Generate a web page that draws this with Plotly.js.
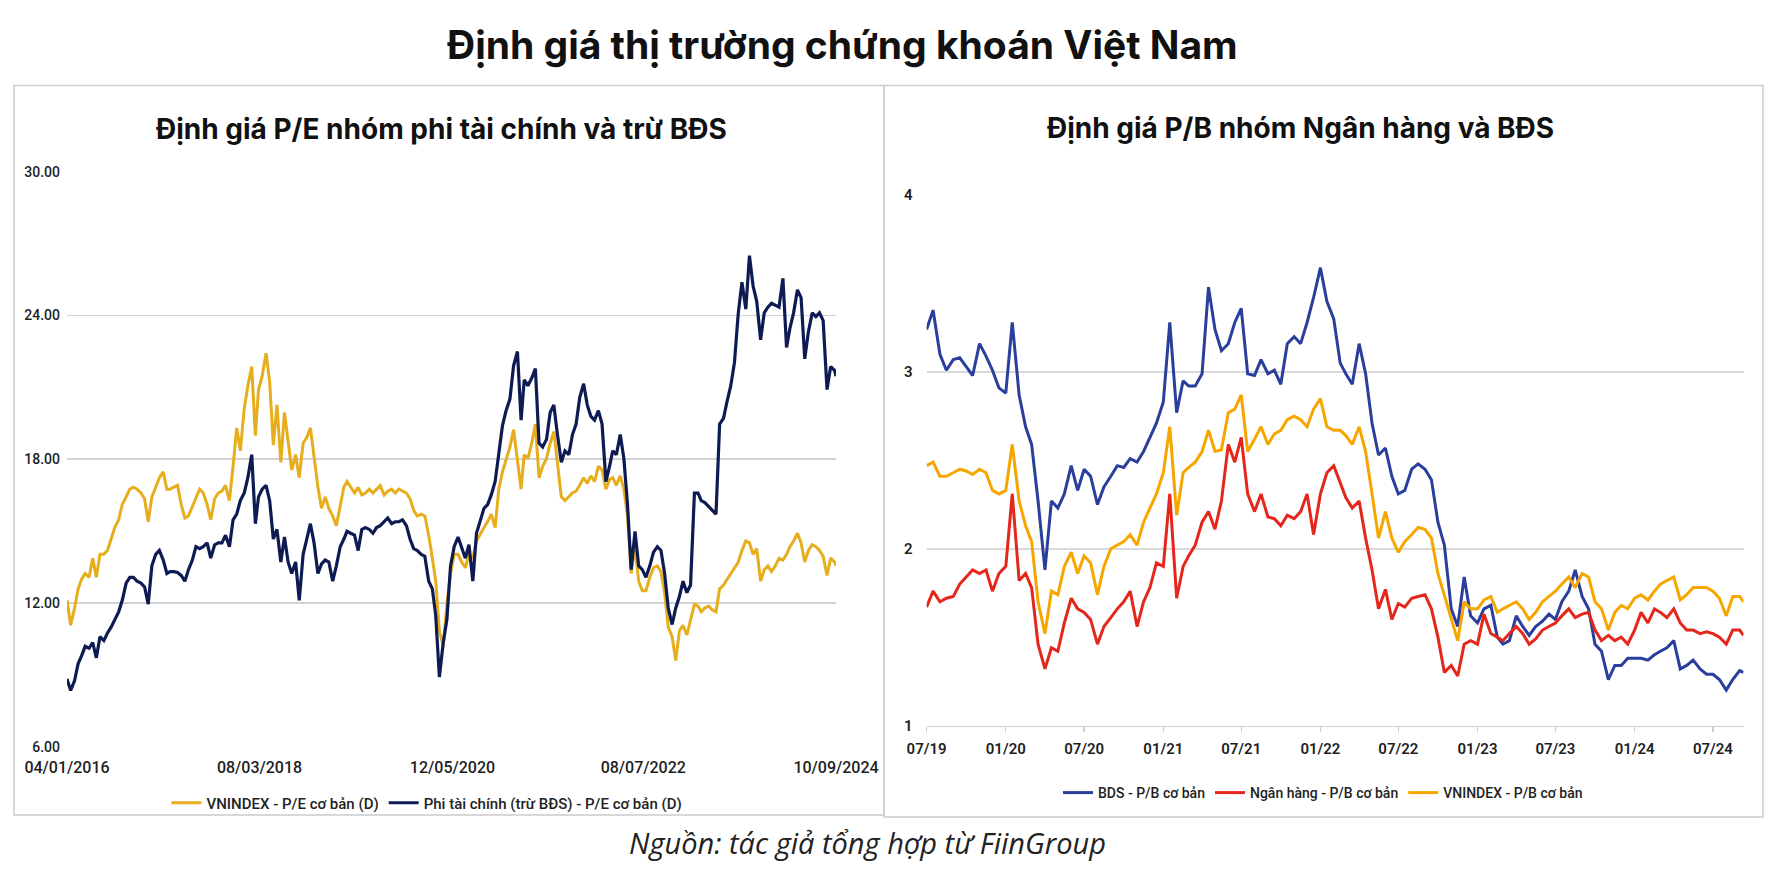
<!DOCTYPE html>
<html>
<head>
<meta charset="utf-8">
<script src="https://cdn.plot.ly/plotly-3.0.1.min.js"></script>
<style>
  html, body { margin: 0; padding: 0; background: #ffffff; }
  #chart { width: 1772px; height: 877px; }
</style>
</head>
<body>
<div id="chart"></div>
<script>
// ---------- Left panel: P/E (semi-monthly readings) ----------
const peDates = [
  "2016-01-04","2016-01-19","2016-02-04","2016-02-19","2016-03-04","2016-03-19","2016-04-04","2016-04-19","2016-05-04","2016-05-19","2016-06-04","2016-06-19","2016-07-04","2016-07-19","2016-08-04","2016-08-19","2016-09-04","2016-09-19","2016-10-04","2016-10-19","2016-11-04","2016-11-19","2016-12-04","2016-12-19",
  "2017-01-04","2017-01-19","2017-02-04","2017-02-19","2017-03-04","2017-03-19","2017-04-04","2017-04-19","2017-05-04","2017-05-19","2017-06-04","2017-06-19","2017-07-04","2017-07-19","2017-08-04","2017-08-19","2017-09-04","2017-09-19","2017-10-04","2017-10-19","2017-11-04","2017-11-19","2017-12-04","2017-12-19",
  "2018-01-04","2018-01-19","2018-02-04","2018-02-19","2018-03-04","2018-03-19","2018-04-04","2018-04-19","2018-05-04","2018-05-19","2018-06-04","2018-06-19","2018-07-04","2018-07-19","2018-08-04","2018-08-19","2018-09-04","2018-09-19","2018-10-04","2018-10-19","2018-11-04","2018-11-19","2018-12-04","2018-12-19",
  "2019-01-04","2019-01-19","2019-02-04","2019-02-19","2019-03-04","2019-03-19","2019-04-04","2019-04-19","2019-05-04","2019-05-19","2019-06-04","2019-06-19","2019-07-04","2019-07-19","2019-08-04","2019-08-19","2019-09-04","2019-09-19","2019-10-04","2019-10-19","2019-11-04","2019-11-19","2019-12-04","2019-12-19",
  "2020-01-04","2020-01-19","2020-02-04","2020-02-19","2020-03-04","2020-03-19","2020-04-04","2020-04-19","2020-05-04","2020-05-19","2020-06-04","2020-06-19","2020-07-04","2020-07-19","2020-08-04","2020-08-19","2020-09-04","2020-09-19","2020-10-04","2020-10-19","2020-11-04","2020-11-19","2020-12-04","2020-12-19",
  "2021-01-04","2021-01-19","2021-02-04","2021-02-19","2021-03-04","2021-03-19","2021-04-04","2021-04-19","2021-05-04","2021-05-19","2021-06-04","2021-06-19","2021-07-04","2021-07-19","2021-08-04","2021-08-19","2021-09-04","2021-09-19","2021-10-04","2021-10-19","2021-11-04","2021-11-19","2021-12-04","2021-12-19",
  "2022-01-04","2022-01-19","2022-02-04","2022-02-19","2022-03-04","2022-03-19","2022-04-04","2022-04-19","2022-05-04","2022-05-19","2022-06-04","2022-06-19","2022-07-04","2022-07-19","2022-08-04","2022-08-19","2022-09-04","2022-09-19","2022-10-04","2022-10-19","2022-11-04","2022-11-19","2022-12-04","2022-12-19",
  "2023-01-04","2023-01-19","2023-02-04","2023-02-19","2023-03-04","2023-03-19","2023-04-04","2023-04-19","2023-05-04","2023-05-19","2023-06-04","2023-06-19","2023-07-04","2023-07-19","2023-08-04","2023-08-19","2023-09-04","2023-09-19","2023-10-04","2023-10-19","2023-11-04","2023-11-19","2023-12-04","2023-12-19",
  "2024-01-04","2024-01-19","2024-02-04","2024-02-19","2024-03-04","2024-03-19","2024-04-04","2024-04-19","2024-05-04","2024-05-19","2024-06-04","2024-06-19","2024-07-04","2024-07-19","2024-08-04","2024-08-19","2024-09-04","2024-09-10"
];
const peVnindex = [
  12.11,11.07,11.79,12.59,12.99,13.23,13.07,13.87,13.07,14.03,14.03,14.19,14.67,15.15,15.47,16.11,16.43,16.75,16.83,16.75,16.59,16.35,15.39,16.43,
  16.83,17.23,17.47,16.75,16.75,16.83,16.91,16.11,15.55,15.63,16.03,16.43,16.75,16.59,16.11,15.47,16.35,16.59,16.67,16.91,16.27,17.71,19.31,18.35,
  20.11,21.07,21.87,18.99,20.91,21.47,22.43,21.23,18.59,20.27,17.87,19.95,18.67,17.55,18.19,17.23,18.67,18.91,19.31,18.19,16.83,15.95,16.43,15.95,
  15.63,15.23,16.11,16.83,17.07,16.83,16.59,16.83,16.51,16.59,16.75,16.59,16.75,16.91,16.51,16.67,16.75,16.59,16.75,16.67,16.59,16.35,15.87,15.63,
  15.71,15.63,14.83,13.87,12.91,10.83,10.20,11.95,13.23,14.03,14.03,13.71,13.47,14.03,13.87,14.59,14.91,15.15,15.39,15.71,15.15,16.75,17.47,18.03,
  18.51,19.23,18.03,16.75,18.19,18.03,18.67,19.47,17.23,17.71,18.03,18.67,19.15,17.87,16.43,16.27,16.43,16.59,16.67,16.91,17.23,16.99,17.31,17.07,
  17.71,17.55,16.75,17.15,17.23,16.91,17.31,16.75,15.63,13.23,14.35,12.91,12.51,12.51,13.07,13.47,13.55,13.31,12.43,10.99,10.59,9.60,10.83,11.07,
  10.67,11.31,11.95,11.87,11.63,11.79,11.87,11.71,11.63,12.59,12.75,12.99,13.23,13.47,13.71,14.19,14.59,14.51,14.03,14.27,12.91,13.39,13.55,13.31,
  13.55,13.87,13.79,14.03,14.35,14.59,14.91,14.51,13.71,14.19,14.43,14.35,14.19,13.95,13.15,13.87,13.71,13.55
];
const peNonFin = [
  8.83,8.35,8.75,9.47,9.79,10.19,10.11,10.35,9.71,10.59,10.43,10.75,10.99,11.31,11.63,12.11,12.83,13.07,13.07,12.91,12.83,12.67,11.95,13.55,
  14.03,14.19,13.79,13.23,13.31,13.31,13.27,13.15,12.91,13.39,13.79,14.35,14.27,14.35,14.51,13.87,14.43,14.51,14.51,14.83,14.35,15.47,15.71,16.27,
  16.59,17.23,18.19,15.31,16.43,16.75,16.91,16.27,14.67,15.07,13.71,14.75,13.71,13.23,13.71,12.11,14.03,14.67,15.31,14.51,13.23,13.63,13.79,13.71,
  12.91,13.55,14.35,14.67,14.99,14.91,14.83,14.19,15.07,15.15,15.07,14.91,15.15,15.23,15.39,15.55,15.31,15.39,15.39,15.47,15.23,14.67,14.27,14.19,
  14.03,13.95,12.91,12.59,11.47,8.91,10.35,11.31,13.55,14.35,14.75,14.35,13.87,14.43,12.91,14.91,15.47,15.95,16.11,16.51,17.07,18.35,19.39,20.03,
  20.51,21.90,22.50,19.63,21.31,21.07,21.39,21.79,18.67,18.51,18.83,19.95,20.27,19.03,17.87,18.35,18.19,19.03,19.47,20.59,21.15,20.27,19.79,19.63,
  20.03,19.47,17.07,17.71,18.35,18.19,19.03,18.03,16.11,13.39,14.99,13.55,13.39,13.07,13.55,14.11,14.35,14.19,13.23,11.79,11.10,11.79,12.27,12.91,
  12.43,12.75,16.59,16.59,16.27,16.19,16.03,15.87,15.71,19.47,19.71,20.43,21.07,22.03,24.11,25.39,24.27,26.50,25.23,24.59,22.99,24.11,24.35,24.51,
  24.43,24.35,25.55,22.67,23.47,24.11,25.07,24.75,22.19,23.31,24.11,23.95,24.11,23.79,20.91,21.87,21.71,21.47
];
const peTickVals = ["2016-01-04","2018-03-08","2020-05-12","2022-07-08","2024-09-10"];
const peTickText = ["04/01/2016","08/03/2018","12/05/2020","08/07/2022","10/09/2024"];
const peYTicks = [6, 12, 18, 24, 30];

// ---------- Right panel: P/B (semi-monthly readings) ----------
const pbDates = [
  "2019-07-01","2019-07-16","2019-08-01","2019-08-16","2019-09-01","2019-09-16","2019-10-01","2019-10-16","2019-11-01","2019-11-16","2019-12-01","2019-12-16",
  "2020-01-01","2020-01-16","2020-02-01","2020-02-16","2020-03-01","2020-03-16","2020-04-01","2020-04-16","2020-05-01","2020-05-16","2020-06-01","2020-06-16","2020-07-01","2020-07-16","2020-08-01","2020-08-16","2020-09-01","2020-09-16","2020-10-01","2020-10-16","2020-11-01","2020-11-16","2020-12-01","2020-12-16",
  "2021-01-01","2021-01-16","2021-02-01","2021-02-16","2021-03-01","2021-03-16","2021-04-01","2021-04-16","2021-05-01","2021-05-16","2021-06-01","2021-06-16","2021-07-01","2021-07-16","2021-08-01","2021-08-16","2021-09-01","2021-09-16","2021-10-01","2021-10-16","2021-11-01","2021-11-16","2021-12-01","2021-12-16",
  "2022-01-01","2022-01-16","2022-02-01","2022-02-16","2022-03-01","2022-03-16","2022-04-01","2022-04-16","2022-05-01","2022-05-16","2022-06-01","2022-06-16","2022-07-01","2022-07-16","2022-08-01","2022-08-16","2022-09-01","2022-09-16","2022-10-01","2022-10-16","2022-11-01","2022-11-16","2022-12-01","2022-12-16",
  "2023-01-01","2023-01-16","2023-02-01","2023-02-16","2023-03-01","2023-03-16","2023-04-01","2023-04-16","2023-05-01","2023-05-16","2023-06-01","2023-06-16","2023-07-01","2023-07-16","2023-08-01","2023-08-16","2023-09-01","2023-09-16","2023-10-01","2023-10-16","2023-11-01","2023-11-16","2023-12-01","2023-12-16",
  "2024-01-01","2024-01-16","2024-02-01","2024-02-16","2024-03-01","2024-03-16","2024-04-01","2024-04-16","2024-05-01","2024-05-16","2024-06-01","2024-06-16","2024-07-01","2024-07-16","2024-08-01","2024-08-16","2024-09-01","2024-09-10"
];
const pbBds = [
  3.24,3.35,3.10,3.01,3.07,3.08,3.03,2.98,3.16,3.09,3.01,2.91,
  2.88,3.28,2.87,2.69,2.59,2.27,1.88,2.27,2.23,2.31,2.47,2.33,2.45,2.41,2.25,2.35,2.41,2.47,2.46,2.51,2.49,2.55,2.63,2.71,
  2.83,3.28,2.77,2.95,2.92,2.92,2.99,3.48,3.24,3.12,3.16,3.28,3.36,2.99,2.98,3.07,2.99,3.01,2.93,3.16,3.20,3.16,3.28,3.42,
  3.59,3.40,3.30,3.05,2.99,2.93,3.16,2.99,2.71,2.53,2.57,2.41,2.31,2.33,2.45,2.48,2.45,2.39,2.15,2.02,1.66,1.56,1.84,1.62,
  1.58,1.66,1.68,1.50,1.46,1.48,1.62,1.56,1.51,1.56,1.59,1.63,1.60,1.70,1.76,1.88,1.73,1.66,1.46,1.42,1.26,1.34,1.34,1.38,
  1.38,1.38,1.37,1.40,1.42,1.44,1.48,1.32,1.34,1.37,1.32,1.29,1.29,1.26,1.20,1.26,1.31,1.30
];
const pbBank = [
  1.67,1.76,1.70,1.72,1.73,1.80,1.84,1.88,1.86,1.88,1.76,1.86,
  1.90,2.31,1.82,1.86,1.78,1.46,1.32,1.44,1.42,1.58,1.72,1.66,1.64,1.60,1.46,1.56,1.61,1.66,1.70,1.76,1.56,1.70,1.78,1.92,
  1.90,2.31,1.72,1.90,1.96,2.02,2.15,2.21,2.11,2.27,2.59,2.49,2.63,2.31,2.21,2.31,2.18,2.17,2.13,2.19,2.17,2.21,2.31,2.08,
  2.31,2.43,2.47,2.37,2.29,2.23,2.27,2.06,1.88,1.66,1.77,1.60,1.69,1.67,1.72,1.73,1.74,1.66,1.50,1.30,1.34,1.28,1.46,1.48,
  1.46,1.63,1.52,1.50,1.48,1.52,1.56,1.52,1.46,1.49,1.54,1.56,1.58,1.62,1.66,1.61,1.63,1.64,1.54,1.48,1.51,1.48,1.50,1.46,
  1.54,1.64,1.58,1.66,1.64,1.61,1.66,1.58,1.54,1.54,1.52,1.53,1.52,1.50,1.46,1.54,1.54,1.51
];
const pbVnindex = [
  2.47,2.49,2.41,2.41,2.43,2.45,2.44,2.42,2.45,2.43,2.33,2.31,
  2.33,2.59,2.27,2.13,2.04,1.70,1.52,1.76,1.74,1.90,1.98,1.86,1.96,1.92,1.74,1.90,2.00,2.02,2.04,2.08,2.02,2.15,2.23,2.31,
  2.43,2.69,2.19,2.43,2.46,2.49,2.55,2.67,2.55,2.56,2.77,2.79,2.87,2.55,2.62,2.69,2.59,2.65,2.67,2.73,2.75,2.73,2.69,2.79,
  2.85,2.69,2.67,2.67,2.64,2.59,2.69,2.55,2.31,2.06,2.21,2.06,1.98,2.04,2.08,2.12,2.11,2.06,1.86,1.74,1.60,1.48,1.70,1.66,
  1.66,1.71,1.73,1.64,1.66,1.68,1.70,1.66,1.60,1.64,1.70,1.73,1.76,1.80,1.84,1.78,1.86,1.84,1.70,1.66,1.54,1.64,1.68,1.66,
  1.72,1.74,1.71,1.76,1.80,1.82,1.84,1.71,1.74,1.78,1.78,1.78,1.76,1.72,1.62,1.73,1.73,1.70
];
const pbTickVals = ["2019-07-01","2020-01-01","2020-07-01","2021-01-01","2021-07-01","2022-01-01","2022-07-01","2023-01-01","2023-07-01","2024-01-01","2024-07-01"];
const pbTickText = ["07/19","01/20","07/20","01/21","07/21","01/22","07/22","01/23","07/23","01/24","07/24"];
const pbYTicks = [1, 2, 3, 4];

// ---------- Text ----------
const mainTitle = "Định giá thị trường chứng khoán Việt Nam";
const leftTitle = "Định giá P/E nhóm phi tài chính và trừ BĐS";
const rightTitle = "Định giá P/B nhóm Ngân hàng và BĐS";
const sourceText = "Nguồn: tác giả tổng hợp từ FiinGroup";
const peNames = ["VNINDEX - P/E cơ bản (D)", "Phi tài chính (trừ BĐS) - P/E cơ bản (D)"];
const pbNames = ["BDS - P/B cơ bản", "Ngân hàng - P/B cơ bản", "VNINDEX - P/B cơ bản"];

const W = 1772, H = 877;
const px = v => v / W;
const py = v => 1 - v / H;

const traces = [
  { x: peDates, y: peVnindex, name: peNames[0], type: "scatter", mode: "lines",
    line: { color: "#E6AE1C", width: 3 }, xaxis: "x", yaxis: "y", legend: "legend" },
  { x: peDates, y: peNonFin, name: peNames[1], type: "scatter", mode: "lines",
    line: { color: "#0E1B52", width: 3.2 }, xaxis: "x", yaxis: "y", legend: "legend" },
  { x: pbDates, y: pbBds, name: pbNames[0], type: "scatter", mode: "lines",
    line: { color: "#2A3E9C", width: 3 }, xaxis: "x2", yaxis: "y2", legend: "legend2" },
  { x: pbDates, y: pbBank, name: pbNames[1], type: "scatter", mode: "lines",
    line: { color: "#E5261B", width: 3 }, xaxis: "x2", yaxis: "y2", legend: "legend2" },
  { x: pbDates, y: pbVnindex, name: pbNames[2], type: "scatter", mode: "lines",
    line: { color: "#F7A600", width: 3 }, xaxis: "x2", yaxis: "y2", legend: "legend2" }
];

const layout = {
  width: W, height: H,
  margin: { l: 0, r: 0, t: 0, b: 0 },
  paper_bgcolor: "#ffffff", plot_bgcolor: "rgba(0,0,0,0)",
  showlegend: true,
  xaxis: {
    domain: [px(67), px(836)], anchor: "y", type: "date",
    range: ["2016-01-04", "2024-09-10"],
    tickmode: "array", tickvals: peTickVals, ticktext: peTickText,
    showgrid: false, zeroline: false, showline: false, ticks: "",
    ticklabelstandoff: 9,
    tickfont: { family: "Roboto, sans-serif", size: 16, color: "#1e1e1e", weight: 500 }
  },
  yaxis: {
    domain: [py(746.7), py(171.8)], anchor: "x",
    range: [6, 30], tickmode: "array", tickvals: peYTicks, tickformat: ".2f",
    showgrid: true, gridcolor: "#d2d2d2", gridwidth: 1.6,
    zeroline: false, showline: false, ticks: "",
    ticklabelstandoff: 6,
    tickfont: { family: "Roboto, sans-serif", size: 14, color: "#1e1e1e", weight: 500 }
  },
  xaxis2: {
    domain: [px(926.6), px(1743.5)], anchor: "y2", type: "date",
    range: ["2019-07-01", "2024-09-10"],
    tickmode: "array", tickvals: pbTickVals, ticktext: pbTickText,
    showgrid: false, zeroline: false,
    showline: true, linecolor: "#cfcfcf", linewidth: 1.6,
    ticks: "outside", ticklen: 5, tickcolor: "#cfcfcf", tickwidth: 1.4,
    ticklabelstandoff: 4,
    tickfont: { family: "Roboto, sans-serif", size: 15, color: "#1e1e1e", weight: 600 }
  },
  yaxis2: {
    domain: [py(725.5), py(195.2)], anchor: "x2",
    range: [1, 4], tickmode: "array", tickvals: pbYTicks,
    showgrid: true, gridcolor: "#d9d9d9", gridwidth: 1.6,
    zeroline: false, showline: false, ticks: "",
    ticklabelstandoff: 13,
    tickfont: { family: "Roboto, sans-serif", size: 15, color: "#1e1e1e", weight: 600 }
  },
  legend: {
    orientation: "h", x: px(427), y: py(803), xanchor: "center", yanchor: "middle",
    font: { family: "Roboto, sans-serif", size: 15, color: "#222222", weight: 500 },
    bgcolor: "rgba(0,0,0,0)", itemwidth: 30, itemclick: false
  },
  legend2: {
    orientation: "h", x: px(1323), y: py(793), xanchor: "center", yanchor: "middle",
    font: { family: "Roboto, sans-serif", size: 14, color: "#222222", weight: 500 },
    bgcolor: "rgba(0,0,0,0)", itemwidth: 30, itemclick: false
  },
  shapes: [
    { type: "rect", xref: "paper", yref: "paper", x0: px(14), x1: px(884), y0: py(815), y1: py(85.5),
      line: { color: "#cccccc", width: 1.5 }, fillcolor: "rgba(0,0,0,0)", layer: "below" },
    { type: "rect", xref: "paper", yref: "paper", x0: px(884), x1: px(1763), y0: py(817), y1: py(85.5),
      line: { color: "#cccccc", width: 1.5 }, fillcolor: "rgba(0,0,0,0)", layer: "below" }
  ],
  annotations: [
    { text: "<b>" + mainTitle + "</b>", xref: "paper", yref: "paper", x: px(842), y: py(44),
      xanchor: "center", yanchor: "middle", showarrow: false,
      font: { family: "Inter, 'Noto Sans', sans-serif", size: 39, color: "#111111" } },
    { text: "<b>" + leftTitle + "</b>", xref: "paper", yref: "paper", x: px(441), y: py(129),
      xanchor: "center", yanchor: "middle", showarrow: false,
      font: { family: "Inter, 'Noto Sans', sans-serif", size: 28, color: "#111111" } },
    { text: "<b>" + rightTitle + "</b>", xref: "paper", yref: "paper", x: px(1300), y: py(128),
      xanchor: "center", yanchor: "middle", showarrow: false,
      font: { family: "Inter, 'Noto Sans', sans-serif", size: 28, color: "#111111" } },
    { text: "<i>" + sourceText + "</i>", xref: "paper", yref: "paper", x: px(867), y: py(842),
      xanchor: "center", yanchor: "middle", showarrow: false,
      font: { family: "'Open Sans', 'Noto Sans', sans-serif", size: 29, color: "#222222" } }
  ]
};

Plotly.newPlot("chart", traces, layout, { displayModeBar: false, staticPlot: true });
</script>
</body>
</html>
